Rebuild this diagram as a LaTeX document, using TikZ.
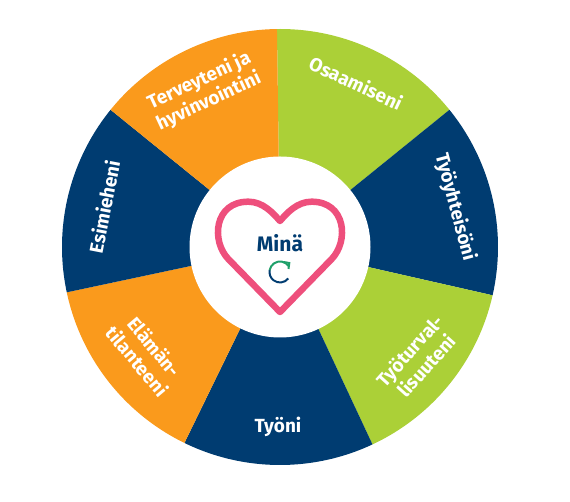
\documentclass[tikz,border=0pt]{standalone}
\usepackage{fontspec}
\setmainfont{Fira Sans}
\usetikzlibrary{positioning, arrows.meta, calc}
\definecolor{navyblue}{HTML}{003C71}
\definecolor{wheelorange}{HTML}{FA9A1C}
\definecolor{wheelgreen}{HTML}{ABD037}
\definecolor{heartpink}{HTML}{EE4F7C}
\definecolor{turngreen}{HTML}{1FA06A}
\tikzset{
  seglabel/.style={text=white, font=\fontsize{19}{22.5}\selectfont\bfseries, align=center, inner sep=0pt},
}
\begin{document}
\begin{tikzpicture}[x=1pt, y=1pt, >=Stealth]
    \useasboundingbox (0,0) rectangle (570,502);
    \fill[white] (0,0) rectangle (570,502);
    \coordinate (mid) at (280,255);
    % wheel
    \foreach \a/\b/\c in {90.8/39/wheelgreen, 39/-12.8/navyblue, -12.8/-64.9/wheelgreen,
        -64.9/-116/navyblue, -116/-168/wheelorange, 192/141/navyblue, 141/90.8/wheelorange}{
      \fill[\c] (mid) -- ++(\a:218) arc[start angle=\a, end angle=\b, radius=218] -- cycle;
    }
    \fill[white] (mid) circle (90.5);
    % heart
    \draw[heartpink, line width=6.5pt, line join=round]
      (280,190) -- (228.3,243)
      .. controls (211,261) and (214,300.3) .. (248.3,300.3)
      .. controls (263,300.3) and (273,289) .. (280,281)
      .. controls (287,289) and (297,300.3) .. (311.7,300.3)
      .. controls (346,300.3) and (349,261) .. (331.7,243)
      -- cycle;
    % turn symbol
    \coordinate (turn) at (280,230);
    \draw[navyblue, line width=2pt] ([shift={(-38:10.5)}]turn) arc[start angle=-38, end angle=-190, radius=10.5];
    \draw[turngreen, line width=2pt] ([shift={(170:10.5)}]turn) arc[start angle=170, end angle=35, radius=10.5];
    \draw[turngreen, line width=2pt] (283.5,240) -- (289.3,239) -- (288.5,233);
    % labels
    \node[seglabel, text=navyblue, font=\fontsize{21}{22}\selectfont\bfseries] (me) at (280,259) {Minä};
    \node[seglabel, rotate=25] (health) at (204,411) {Terveyteni ja\\hyvinvointini};
    \node[seglabel, rotate=-25] (skills) at (356,419) {Osaamiseni};
    \node[seglabel, rotate=-75] (community) at (455,295) {Työyhteisöni};
    \node[seglabel, rotate=48] (safety) at (418,144) {Työturval-\\lisuuteni};
    \node[seglabel] (work) at (278,75) {Työni};
    \node[seglabel, rotate=-50] (life) at (146,148) {Elämän-\\tilanteeni};
    \node[seglabel, rotate=79] (boss) at (104,295) {Esimieheni};
  \end{tikzpicture}
\end{document}
